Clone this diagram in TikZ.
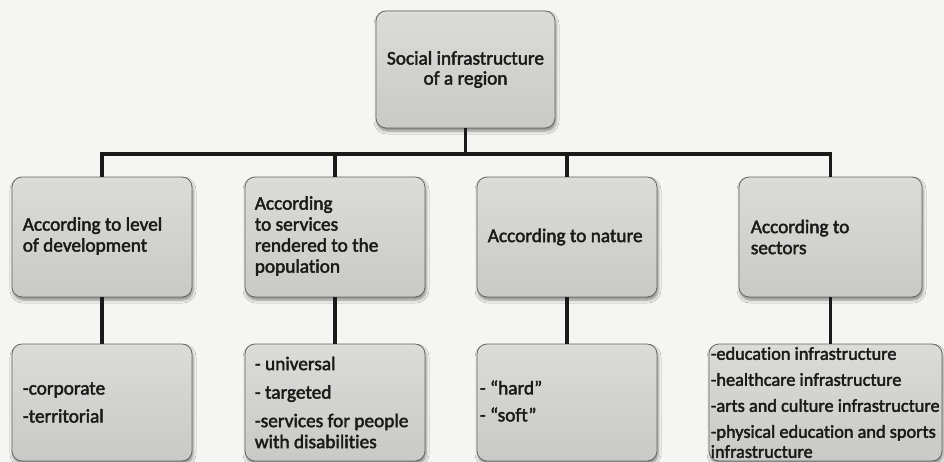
\documentclass[tikz,border=0pt]{standalone}
\usepackage{fontspec}
\setmainfont{Carlito}[Ligatures=NoCommon, RawFeature={embolden=2.2}]
\usetikzlibrary{shadows.blur}
\definecolor{paper}{HTML}{F5F5F3}
\definecolor{boxtop}{HTML}{DBDBDA}
\definecolor{boxbot}{HTML}{C9C9C8}
\definecolor{boxline}{HTML}{666666}
\definecolor{ink}{HTML}{1A1A1A}
\tikzset{
  card/.style={draw=boxline, line width=0.8pt, rounded corners=10pt,
    top color=boxtop, bottom color=boxbot, inner sep=0pt,
    blur shadow={shadow xshift=1pt, shadow yshift=-3pt,
      shadow blur radius=3pt, shadow opacity=45}},
  lbl/.style={text=ink, inner sep=0pt, align=left, anchor=west},
  bigtxt/.style={font=\fontsize{19.3}{21}\selectfont},
  smalltxt/.style={font=\fontsize{18.3}{20}\selectfont},
  conn/.style={draw=ink, line width=3.6pt}
}
\begin{document}
\begin{tikzpicture}[x=1pt,y=-1pt]
  \fill[paper] (0,0) rectangle (944,462);
  \useasboundingbox (0,0) rectangle (944,462);

  % root
  \node[card, minimum width=179pt, minimum height=117pt] (root) at (465.5,69.5) {};
  \node[lbl, anchor=center, align=center, font=\fontsize{19.3}{20}\selectfont]
    (roott) at (root.center) {Social infrastructure\\of a region};

  % classification criteria
  \node[card, minimum width=180pt, minimum height=120pt] (c1) at (102,237) {};
  \node[card, minimum width=180pt, minimum height=120pt] (c2) at (335,237) {};
  \node[card, minimum width=180pt, minimum height=120pt] (c3) at (567,237) {};
  \node[card, minimum width=183pt, minimum height=120pt] (c4) at (830.5,237) {};
  \node[lbl, bigtxt] (c1t) at ([xshift=11pt,yshift=1pt]c1.west) {According to level\\of development};
  \node[lbl, bigtxt] (c2t) at ([xshift=10pt,yshift=1pt]c2.west) {According\\to services\\rendered to the\\population};
  \node[lbl, bigtxt] (c3t) at ([xshift=11pt]c3.west) {According to nature};
  \node[lbl, bigtxt] (c4t) at ([xshift=12pt]c4.west) {According to\\sectors};

  % kinds within each criterion
  \node[card, minimum width=180pt, minimum height=117pt] (d1) at (102,402.5) {};
  \node[card, minimum width=180pt, minimum height=117pt] (d2) at (335,402.5) {};
  \node[card, minimum width=180pt, minimum height=117pt] (d3) at (567,402.5) {};
  \node[card, minimum width=233pt, minimum height=117pt] (d4) at (825.5,402.5) {};
  \node[lbl, bigtxt] (d1t) at ([xshift=11pt]d1.west) {-corporate\\[7pt]-territorial};
  \node[lbl, bigtxt] (d2t) at ([xshift=10pt]d2.west) {- universal\\[7.5pt]- targeted\\[7.5pt]-services for people\\with disabilities};
  \node[lbl, bigtxt] (d3t) at ([xshift=3pt,yshift=1.5pt]d3.west) {- ``hard''\\[6pt]- ``soft''};
  \node[lbl, smalltxt] (d4t) at ([xshift=2pt]d4.west) {-education infrastructure\\[6pt]-healthcare infrastructure\\[6pt]-arts and culture infrastructure\\[6pt]-physical education and sports\\infrastructure};

  % connectors
  \coordinate (bus) at (0,154);
  \draw[conn] (root.south) -- (root.south |- bus);
  \draw[conn] (c1.north) -- (c1.north |- bus) -- (c4.north |- bus) -- (c4.north);
  \draw[conn] (c2.north) -- (c2.north |- bus);
  \draw[conn] (c3.north) -- (c3.north |- bus);
  \draw[conn] (c1.south) -- (c1.south |- d1.north);
  \draw[conn] (c2.south) -- (c2.south |- d2.north);
  \draw[conn] (c3.south) -- (c3.south |- d3.north);
  \draw[conn] (c4.south) -- (c4.south |- d4.north);
\end{tikzpicture}
\end{document}
